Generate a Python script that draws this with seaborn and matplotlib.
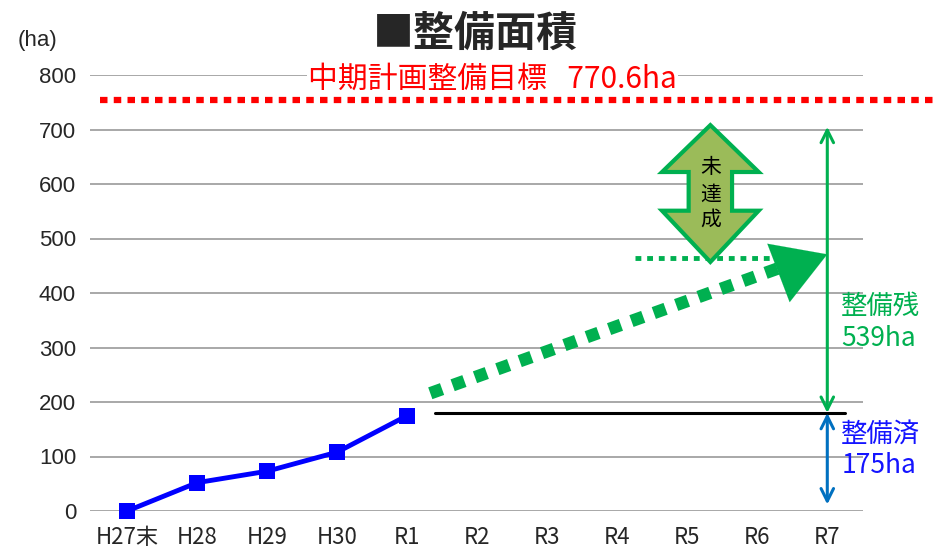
import matplotlib
matplotlib.use("Agg")
import matplotlib.pyplot as plt
import seaborn as sns
import pandas as pd
import numpy as np
from matplotlib.patches import Polygon

# ---- data ----
categories = ["H27末", "H28", "H29", "H30", "R1", "R2", "R3", "R4", "R5", "R6", "R7"]
actual_years = ["H27末", "H28", "H29", "H30", "R1"]
actual_values = [0, 52, 73, 108, 175]
target_value = 755          # drawn position of 中期計画整備目標 line
target_label = "中期計画整備目標   770.6ha"
done_value = 180            # black reference line (整備済 level)
projection_start = [4.33, 216]
projection_end = [9.75, 466]
remaining_label = "整備残\n539ha"
done_label = "整備済\n175ha"
yticks = [0, 100, 200, 300, 400, 500, 600, 700, 800]

sns.set_style("white")
plt.rcParams["font.family"] = ["Noto Sans CJK JP", "DejaVu Sans"]
NARROW = ["Liberation Sans Narrow", "Liberation Sans", "DejaVu Sans"]

GREEN = "#00B050"
BLUE_ARROW = "#0070C0"
BLUE_TEXT = "#1414FF"
RED = "#FF0000"

fig = plt.figure(figsize=(9.39, 5.58), dpi=100)
ax = fig.add_axes([90 / 939, 1 - 511 / 558, (863 - 90) / 939, (511 - 75) / 558])

df = pd.DataFrame({"x": [categories.index(c) for c in actual_years], "y": actual_values})
sns.lineplot(data=df, x="x", y="y", ax=ax, color="#0000FF", lw=3.5, marker="s",
             markersize=11, markeredgewidth=0, clip_on=False, zorder=5)

ax.set_xlim(-0.53, 10.51)
ax.set_ylim(0, 800)
ax.set_yticks(yticks)
ax.set_xticks(range(len(categories)))
ax.set_xticklabels(categories, family=["Liberation Sans Narrow", "Noto Sans CJK JP"], fontsize=16)
ax.set_yticklabels([str(v) for v in yticks], family=NARROW, fontsize=16)
ax.tick_params(axis="both", length=0, pad=10)
ax.tick_params(axis="x", pad=11)
ax.grid(axis="y", color="#999999", lw=1.2)
ax.grid(axis="x", visible=False)
for s in ax.spines.values():
    s.set_visible(False)
ax.set_xlabel("")
ax.set_ylabel("")

# target line (red dotted, extends past axes)
ax.plot([-0.39, 11.54], [target_value, target_value], color=RED, lw=4.5,
        linestyle=(0, (1.2, 1.0)), clip_on=False, zorder=3)
ax.text(5.22, 793, target_label, color=RED, fontsize=21.5, ha="center", va="center",
        bbox=dict(facecolor="white", edgecolor="none", pad=1), zorder=4)

# black reference line
ax.plot([4.4, 10.25], [done_value, done_value], color="black", lw=2.2, zorder=3)

# green dashed projection arrow
sx, sy = projection_start
ex, ey = projection_end
ax.plot([sx, ex - 0.25], [sy, ey - 0.25 * (ey - sy) / (ex - sx)], color=GREEN, lw=9,
        linestyle=(0, (1.0, 0.9)), solid_capstyle="butt", dash_capstyle="butt", zorder=4)
ax.annotate("", xy=(ex + 0.25, ey + 5), xytext=(ex - 0.3, ey - 22),
            arrowprops=dict(arrowstyle="-|>,head_length=1.5,head_width=0.9", color=GREEN,
                            lw=0.1, mutation_scale=25, shrinkA=0, shrinkB=0), zorder=4)

# green dotted horizontal
ax.plot([7.26, 9.55], [464, 464], color=GREEN, lw=3.5, linestyle=(0, (1.2, 1.2)), zorder=3)

# vertical double arrows at R7
ax.annotate("", xy=(10, 705), xytext=(10, done_value),
            arrowprops=dict(arrowstyle="<->,head_length=0.9,head_width=0.45", color=GREEN,
                            lw=2.2, shrinkA=0, shrinkB=0), zorder=5)
ax.annotate("", xy=(10, 12), xytext=(10, done_value),
            arrowprops=dict(arrowstyle="<->,head_length=0.9,head_width=0.45", color=BLUE_ARROW,
                            lw=2.2, shrinkA=0, shrinkB=0), zorder=5)

ax.text(10.2, 346, remaining_label, color=GREEN, fontsize=19, ha="left", va="center",
        linespacing=1.2, clip_on=False)
ax.text(10.2, 112, done_label, color=BLUE_TEXT, fontsize=19, ha="left", va="center",
        linespacing=1.2, clip_on=False)

# big double arrow 未達成
cx = 8.33
hw_head, hw_body = 0.69, 0.31
top, head_top_base, head_bot_base, bot = 708, 622, 551, 457
pts = [(cx, top), (cx + hw_head, head_top_base), (cx + hw_body, head_top_base),
       (cx + hw_body, head_bot_base), (cx + hw_head, head_bot_base), (cx, bot),
       (cx - hw_head, head_bot_base), (cx - hw_body, head_bot_base),
       (cx - hw_body, head_top_base), (cx - hw_head, head_top_base)]
ax.add_patch(Polygon(pts, closed=True, facecolor="#9BBB59", edgecolor=GREEN, lw=3, zorder=6))
for ch, yy in zip("未達成", [631, 580, 534]):
    ax.text(cx, yy, ch, fontsize=15, ha="center", va="center", color="black", zorder=7)

# title and unit
fig.text(0.506, 0.94, "■整備面積", fontsize=29.5, fontweight="bold", ha="center", va="center")
fig.text(0.04, 0.928, "(ha)", fontsize=16, ha="center", va="center", family=NARROW)

fig.savefig("out.png", dpi=100)
